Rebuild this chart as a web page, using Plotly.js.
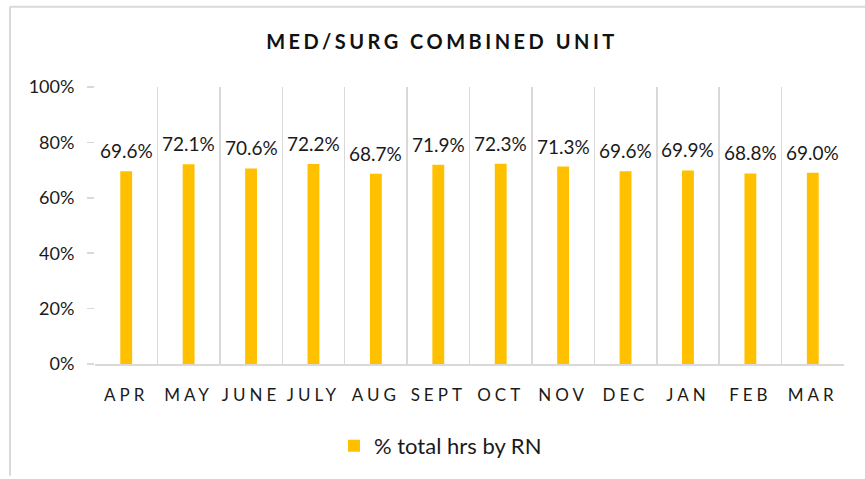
<!DOCTYPE html>
<html>
<head>
<meta charset="utf-8">
<script src="https://cdn.plot.ly/plotly-3.0.1.min.js"></script>
<style>
  html, body { margin: 0; padding: 0; background: #fff; }
  #chart { width: 865px; height: 479px; }
  .gtitle { letter-spacing: 3.5px; }
  .xtick text { letter-spacing: 4px; }
</style>
</head>
<body>
<div id="chart"></div>
<script>
const months = ["APR", "MAY", "JUNE", "JULY", "AUG", "SEPT", "OCT", "NOV", "DEC", "JAN", "FEB", "MAR"];
const rnShare = [0.696, 0.721, 0.706, 0.722, 0.687, 0.719, 0.723, 0.713, 0.696, 0.699, 0.688, 0.690];
const valueLabels = ["69.6%", "72.1%", "70.6%", "72.2%", "68.7%", "71.9%", "72.3%", "71.3%", "69.6%", "69.9%", "68.8%", "69.0%"];
const seriesName = "% total hrs by RN";
const yTickVals = [0, 0.2, 0.4, 0.6, 0.8, 1.0];
const yTickText = ["0%", "20%", "40%", "60%", "80%", "100%"];

const W = 865, H = 479;
const M = {l: 95, r: 21, t: 87, b: 112};
const pw = W - M.l - M.r, ph = H - M.t - M.b;
const px = x => (x - M.l) / pw;
const py = y => (H - M.b - y) / ph;

const font = "Lato, 'Open Sans', sans-serif";

const trace = {
  type: "bar",
  x: months,
  y: rnShare,
  name: seriesName,
  marker: {color: "#FFC000"},
  hoverinfo: "skip"
};

const annotations = months.map((m, i) => ({
  x: m, y: rnShare[i], xref: "x", yref: "y",
  text: valueLabels[i], showarrow: false,
  yanchor: "bottom", yshift: 7,
  font: {family: font, size: 19, color: "#1a1a1a"}
}));

const layout = {
  width: W, height: H,
  margin: M,
  paper_bgcolor: "#fff", plot_bgcolor: "#fff",
  title: {
    text: "<b>MED/SURG COMBINED UNIT</b>",
    font: {family: font, size: 20, color: "#111"},
    x: 0.511, xanchor: "center", y: 0.912, yanchor: "middle"
  },
  bargap: 0.81,
  showlegend: true,
  legend: {
    orientation: "h", x: px(334), xanchor: "left", y: -0.22, yanchor: "top",
    font: {family: font, size: 22, color: "#1a1a1a"},
    itemwidth: 30
  },
  xaxis: {
    type: "category",
    showgrid: true, gridcolor: "#d9d9d9", gridwidth: 1.5,
    tickson: "boundaries", ticks: "",
    showline: true, linecolor: "#d9d9d9", linewidth: 1.5,
    tickfont: {family: font, size: 17, color: "#1a1a1a"},
    ticklabelstandoff: 15,
    fixedrange: true
  },
  yaxis: {
    range: [0, 1],
    tickvals: yTickVals, ticktext: yTickText,
    showgrid: false, zeroline: false, showline: false,
    ticks: "outside", ticklen: 7, tickcolor: "#d9d9d9", tickwidth: 1.5,
    tickfont: {family: font, size: 18, color: "#1a1a1a"},
    ticklabelstandoff: 9,
    fixedrange: true
  },
  annotations: annotations,
  shapes: [
    {type: "line", xref: "paper", yref: "paper", x0: px(10), x1: px(866), y0: py(6), y1: py(6),
     line: {color: "#d9d9d9", width: 2}},
    {type: "line", xref: "paper", yref: "paper", x0: px(10), x1: px(10), y0: py(6), y1: py(480),
     line: {color: "#d9d9d9", width: 2}}
  ]
};

Plotly.newPlot("chart", [trace], layout, {displayModeBar: false, staticPlot: true});
</script>
</body>
</html>
